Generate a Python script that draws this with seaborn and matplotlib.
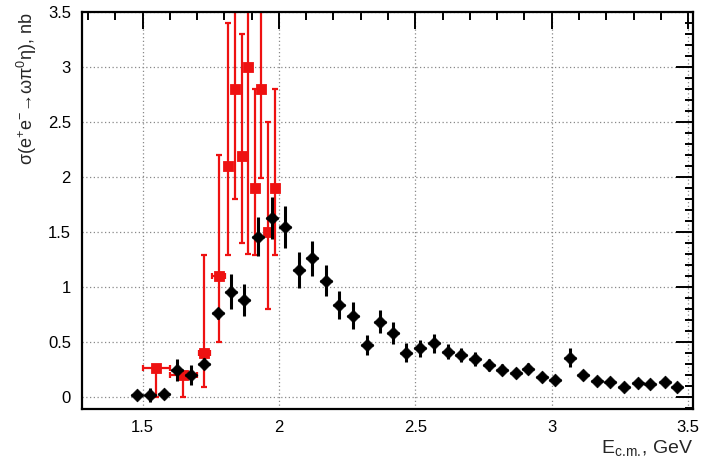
import matplotlib
matplotlib.use("Agg")
import matplotlib.pyplot as plt
import seaborn as sns
import pandas as pd
from matplotlib.ticker import MultipleLocator

# black points (this measurement)
bes_x = [1.478, 1.527, 1.579, 1.626, 1.678, 1.727, 1.778, 1.824, 1.873, 1.925,
         1.973, 2.024, 2.073, 2.121, 2.174, 2.222, 2.273, 2.322, 2.370, 2.419,
         2.467, 2.518, 2.568, 2.619, 2.667, 2.718, 2.769, 2.819, 2.868, 2.914,
         2.965, 3.013, 3.068, 3.114, 3.165, 3.214, 3.266, 3.315, 3.362, 3.414,
         3.459]
bes_y = [0.015, 0.015, 0.02, 0.243, 0.198, 0.298, 0.759, 0.956, 0.88, 1.457,
         1.625, 1.548, 1.154, 1.26, 1.057, 0.835, 0.738, 0.471, 0.683, 0.577,
         0.401, 0.44, 0.486, 0.41, 0.38, 0.343, 0.285, 0.246, 0.219, 0.252,
         0.182, 0.152, 0.355, 0.198, 0.146, 0.137, 0.085, 0.122, 0.113, 0.137,
         0.085]
bes_err = [0.02, 0.06, 0.04, 0.10, 0.09, 0.05, 0.05, 0.16, 0.15, 0.18,
           0.19, 0.19, 0.16, 0.16, 0.14, 0.125, 0.12, 0.095, 0.105, 0.10,
           0.087, 0.08, 0.085, 0.07, 0.065, 0.06, 0.055, 0.05, 0.045, 0.05,
           0.045, 0.04, 0.085, 0.045, 0.035, 0.035, 0.03, 0.03, 0.03, 0.03,
           0.03]

# red points (earlier measurement)
old_x = [1.551, 1.650, 1.727, 1.779, 1.812, 1.839, 1.863, 1.888, 1.911, 1.933,
         1.961, 1.985]
old_y = [0.258, 0.198, 0.40, 1.10, 2.10, 2.80, 2.195, 3.005, 1.898, 2.80,
         1.497, 1.898]
old_err_lo = [0.258, 0.198, 0.31, 0.60, 0.81, 1.00, 0.80, 1.71, 0.61, 0.81,
              0.70, 0.61]
old_err_hi = [0.0, 0.0, 0.89, 1.10, 1.30, 1.00, 1.11, 1.70, 0.90, 0.81,
              1.00, 0.90]
old_xerr = [0.05, 0.05, 0.02, 0.025, 0, 0, 0, 0, 0, 0, 0, 0]

sns.set_style("white")
plt.rcParams["font.family"] = ["Liberation Sans", "DejaVu Sans"]
plt.rcParams["mathtext.default"] = "regular"

fig = plt.figure(figsize=(7.08, 4.63), dpi=100)
ax = fig.add_axes([0.1158, 0.116, 0.8626, 0.8574])

df_old = pd.DataFrame({"x": old_x, "y": old_y})
df_bes = pd.DataFrame({"x": bes_x, "y": bes_y})

ax.errorbar(old_x, old_y, yerr=[old_err_lo, old_err_hi], xerr=old_xerr,
            fmt="none", ecolor="#ee1111", elinewidth=1.6, capsize=2.5,
            capthick=1.6, zorder=2)
sns.scatterplot(data=df_old, x="x", y="y", ax=ax, marker="s", s=55,
                color="#ee1111", edgecolor="#ee1111", zorder=3)

ax.errorbar(bes_x, bes_y, yerr=bes_err, xerr=0.022, fmt="none",
            ecolor="black", elinewidth=2.2, capsize=0, zorder=4)
sns.scatterplot(data=df_bes, x="x", y="y", ax=ax, marker="D", s=42,
                color="black", edgecolor="black", zorder=5)

ax.set_xlim(1.278, 3.517)
ax.set_ylim(-0.115, 3.5)
ax.xaxis.set_major_locator(MultipleLocator(0.5))
ax.xaxis.set_minor_locator(MultipleLocator(0.1))
ax.yaxis.set_major_locator(MultipleLocator(0.5))
ax.yaxis.set_minor_locator(MultipleLocator(0.1))
ax.set_xticks([1.5, 2, 2.5, 3, 3.5])
ax.set_xticklabels(["1.5", "2", "2.5", "3", "3.5"])
ax.set_yticks([0, 0.5, 1, 1.5, 2, 2.5, 3, 3.5])
ax.set_yticklabels(["0", "0.5", "1", "1.5", "2", "2.5", "3", "3.5"])

ax.grid(True, which="major", linestyle=(0, (1, 2)), color="#888888",
        linewidth=0.9)
ax.set_axisbelow(True)

for sp in ax.spines.values():
    sp.set_linewidth(1.6)
    sp.set_color("black")

ax.tick_params(which="both", direction="in", top=True, right=True,
               labelsize=12, colors="black", width=1.4)
ax.tick_params(which="major", length=12, pad=8)
ax.tick_params(which="minor", length=6)

ax.set_xlabel(r"E$_{c.\!m.\!}$, GeV", fontsize=14, loc="right", labelpad=2)
ax.set_ylabel("σ(e$^{+}$e$^{-}$→ωπ$^{0}$η), nb", fontsize=13, loc="top",
              labelpad=6)

fig.savefig("out.png", dpi=100)
